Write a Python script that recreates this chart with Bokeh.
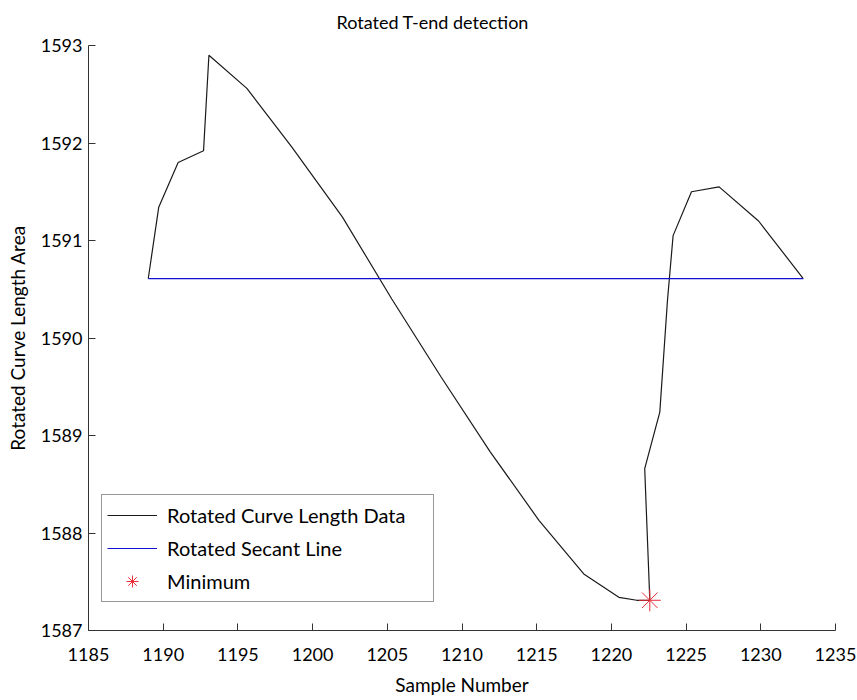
from bokeh.plotting import figure
from bokeh.models import Range1d, FixedTicker, Legend, LegendItem
from bokeh.embed import file_html
from bokeh.resources import INLINE

# Data
curve_x = [1189.0, 1189.7, 1191.0, 1192.7, 1193.06, 1195.6, 1198.6, 1202.0, 1205.3,
           1208.6, 1211.9, 1215.15, 1218.15, 1220.5, 1221.7, 1222.57, 1222.23, 1223.24,
           1223.75, 1224.13, 1225.36, 1227.21, 1229.85, 1232.84]
curve_y = [1590.61, 1591.34, 1591.80, 1591.92, 1592.90, 1592.56, 1591.96, 1591.24, 1590.40,
           1589.60, 1588.83, 1588.13, 1587.58, 1587.34, 1587.31, 1587.31, 1588.66, 1589.24,
           1590.38, 1591.05, 1591.50, 1591.55, 1591.20, 1590.61]
secant_x = [1189.0, 1232.84]
secant_y = [1590.61, 1590.61]
min_x = [1222.57]
min_y = [1587.31]
x_ticks = [1185, 1190, 1195, 1200, 1205, 1210, 1215, 1220, 1225, 1230, 1235]
y_ticks = [1587, 1588, 1589, 1590, 1591, 1592, 1593]
legend_labels = ["Rotated Curve Length Data", "Rotated Secant Line", "Minimum"]
title_text = "Rotated T-end detection"

FONT = "Lato"
W, H = 857, 700
BL, BR, BT, BB = 88, 22, 45, 70
X0, X1 = 1185, 1235
Y0, Y1 = 1587, 1593

CURVE_C = "#1a1a1a"
SEC_C = "#1010d0"
MIN_C = "#e8303a"

p = figure(width=W, height=H, output_backend="svg", toolbar_location=None,
           x_range=Range1d(X0, X1), y_range=Range1d(Y0, Y1), title=title_text,
           min_border_left=BL, min_border_right=BR, min_border_top=BT, min_border_bottom=BB)
p.outline_line_color = None
p.grid.visible = False
p.background_fill_color = "white"
p.border_fill_color = "white"

p.title.text_font = FONT
p.title.text_font_size = "18px"
p.title.text_font_style = "normal"
p.title.text_color = "black"
p.title.align = "left"
p.title.offset = 248
p.title.vertical_align = "top"
p.title.standoff = 21

for ax in (p.xaxis[0], p.yaxis[0]):
    ax.major_tick_in = 7
    ax.major_tick_out = 0
    ax.minor_tick_in = 0
    ax.minor_tick_out = 0
    ax.axis_line_color = "#333333"
    ax.major_tick_line_color = "#333333"
    ax.major_label_text_font = FONT
    ax.major_label_text_font_size = "18px"
    ax.major_label_text_color = "black"
    ax.axis_label_text_font = FONT
    ax.axis_label_text_font_size = "19px"
    ax.axis_label_text_font_style = "normal"
    ax.axis_label_text_color = "black"

p.xaxis.ticker = FixedTicker(ticks=x_ticks)
p.yaxis.ticker = FixedTicker(ticks=y_ticks)
p.xaxis.axis_label = "Sample Number"
p.yaxis.axis_label = "Rotated Curve Length Area"
p.xaxis.major_label_standoff = 17
p.xaxis.axis_label_standoff = 9
p.yaxis.major_label_standoff = 6
p.yaxis.axis_label_standoff = 9

r_curve = p.line(curve_x, curve_y, line_color=CURVE_C, line_width=1.2)
r_sec = p.line(secant_x, secant_y, line_color=SEC_C, line_width=1.2)
r_min = p.scatter(min_x, min_y, marker="asterisk", size=22, line_color=MIN_C, line_width=1)

legend = Legend(items=[
    LegendItem(label=legend_labels[0], renderers=[r_curve]),
    LegendItem(label=legend_labels[1], renderers=[r_sec]),
    LegendItem(label=legend_labels[2], renderers=[r_min]),
], location=(13, 28))
legend.label_text_font = FONT
legend.label_text_font_size = "20px"
legend.label_text_color = "black"
legend.glyph_width = 50
legend.glyph_height = 30
legend.label_height = 20
legend.label_width = 261
legend.spacing = 3
legend.padding = 5
legend.margin = 0
legend.label_standoff = 10
legend.border_line_color = "#333333"
legend.border_line_width = 1
legend.background_fill_color = "white"
legend.background_fill_alpha = 1
p.add_layout(legend)

open("out.html", "w").write(file_html(p, INLINE))
